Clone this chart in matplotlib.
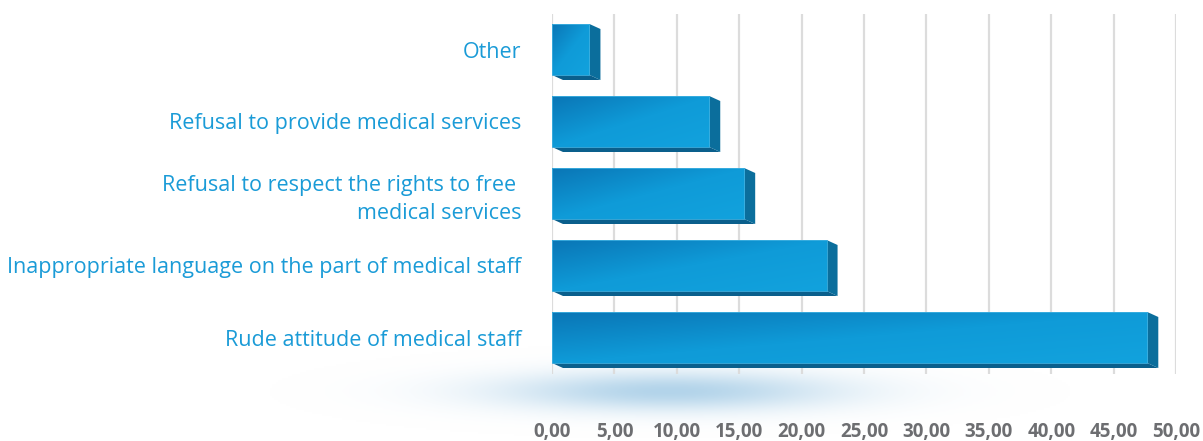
import matplotlib.pyplot as plt
import numpy as np
from matplotlib.patches import Polygon, Rectangle
from matplotlib.colors import LinearSegmentedColormap

categories = ["Other",
              "Refusal to provide medical services",
              "Refusal to respect the rights to free \nmedical services",
              "Inappropriate language on the part of medical staff",
              "Rude attitude of medical staff"]
values = [3.0, 12.6, 15.4, 22.0, 47.7]
ticks = [0, 5, 10, 15, 20, 25, 30, 35, 40, 45, 50]
tick_labels = ["0,00", "5,00", "10,00", "15,00", "20,00", "25,00",
               "30,00", "35,00", "40,00", "45,00", "50,00"]

W, H = 1203, 441
fig = plt.figure(figsize=(W / 100, H / 100), dpi=100)

# soft blue shadow below the bars
bg = fig.add_axes([0, 0, 1, 1], zorder=0)
bg.set_xlim(0, W)
bg.set_ylim(H, 0)
bg.axis("off")
gx, gy = np.meshgrid(np.linspace(0, W, 600), np.linspace(0, H, 220))
glow = np.exp(-(((gx - 670) / 120) ** 2 + ((gy - 392) / 14) ** 2) / 2)
glow_cmap = LinearSegmentedColormap.from_list("glow", ["#ffffff", "#b3d4ea"])
bg.imshow(glow, extent=[0, W, H, 0], cmap=glow_cmap, vmin=0, vmax=1,
          aspect="auto", interpolation="bilinear")

ax = fig.add_axes([552 / W, 1 - 373.5 / H, 624 / W, 360 / H], zorder=1)
ax.patch.set_alpha(0)

bar_h = 51 / 72
dx = 11 / (624 / 50)
dy = 5 / 72
front_cmap = LinearSegmentedColormap.from_list("front", ["#0a76b6", "#0f9bd8", "#12a2dd"])
grad = np.add.outer(np.linspace(0, 1, 50), np.linspace(0, 1, 200)) / 2

for i, v in enumerate(values):
    top = i - bar_h / 2
    bot = i + bar_h / 2
    # bottom face
    ax.add_patch(Polygon([(0, bot), (v, bot), (v + dx, bot + dy), (dx, bot + dy)],
                         closed=True, facecolor="#0a5f8c", edgecolor="none", zorder=3))
    # right face
    ax.add_patch(Polygon([(v, top), (v + dx, top + dy), (v + dx, bot + dy), (v, bot)],
                         closed=True, facecolor="#0b6e9c", edgecolor="none", zorder=3))
    # front face with gradient
    rect = Rectangle((0, top), v, bar_h, facecolor="none", edgecolor="#3fb0e0",
                     linewidth=0.6, zorder=5)
    ax.add_patch(rect)
    im = ax.imshow(grad, extent=[0, v, bot, top],
                   cmap=front_cmap, vmin=0, vmax=1, aspect="auto", zorder=4,
                   interpolation="bilinear")
    im.set_clip_path(rect)

ax.set_xlim(0, 50)
ax.set_ylim(4.5, -0.5)
ax.set_xticks(ticks)
ax.set_xticklabels(tick_labels, fontsize=13.5, fontweight="bold", color="#6d6e71",
                   family="Open Sans")
ax.set_yticks(range(len(categories)))
ax.set_yticklabels(categories, fontsize=15.5, color="#1a9bd7", family="Open Sans",
                   multialignment="right", linespacing=1.45)
ax.tick_params(axis="x", length=0, pad=35)
ax.tick_params(axis="y", length=0, pad=22)
ax.grid(axis="x", color="#dcdcdc", linewidth=1.6, zorder=1)
ax.set_axisbelow(True)
for s in ax.spines.values():
    s.set_visible(False)

fig.savefig("out.png", dpi=100, facecolor="white")
